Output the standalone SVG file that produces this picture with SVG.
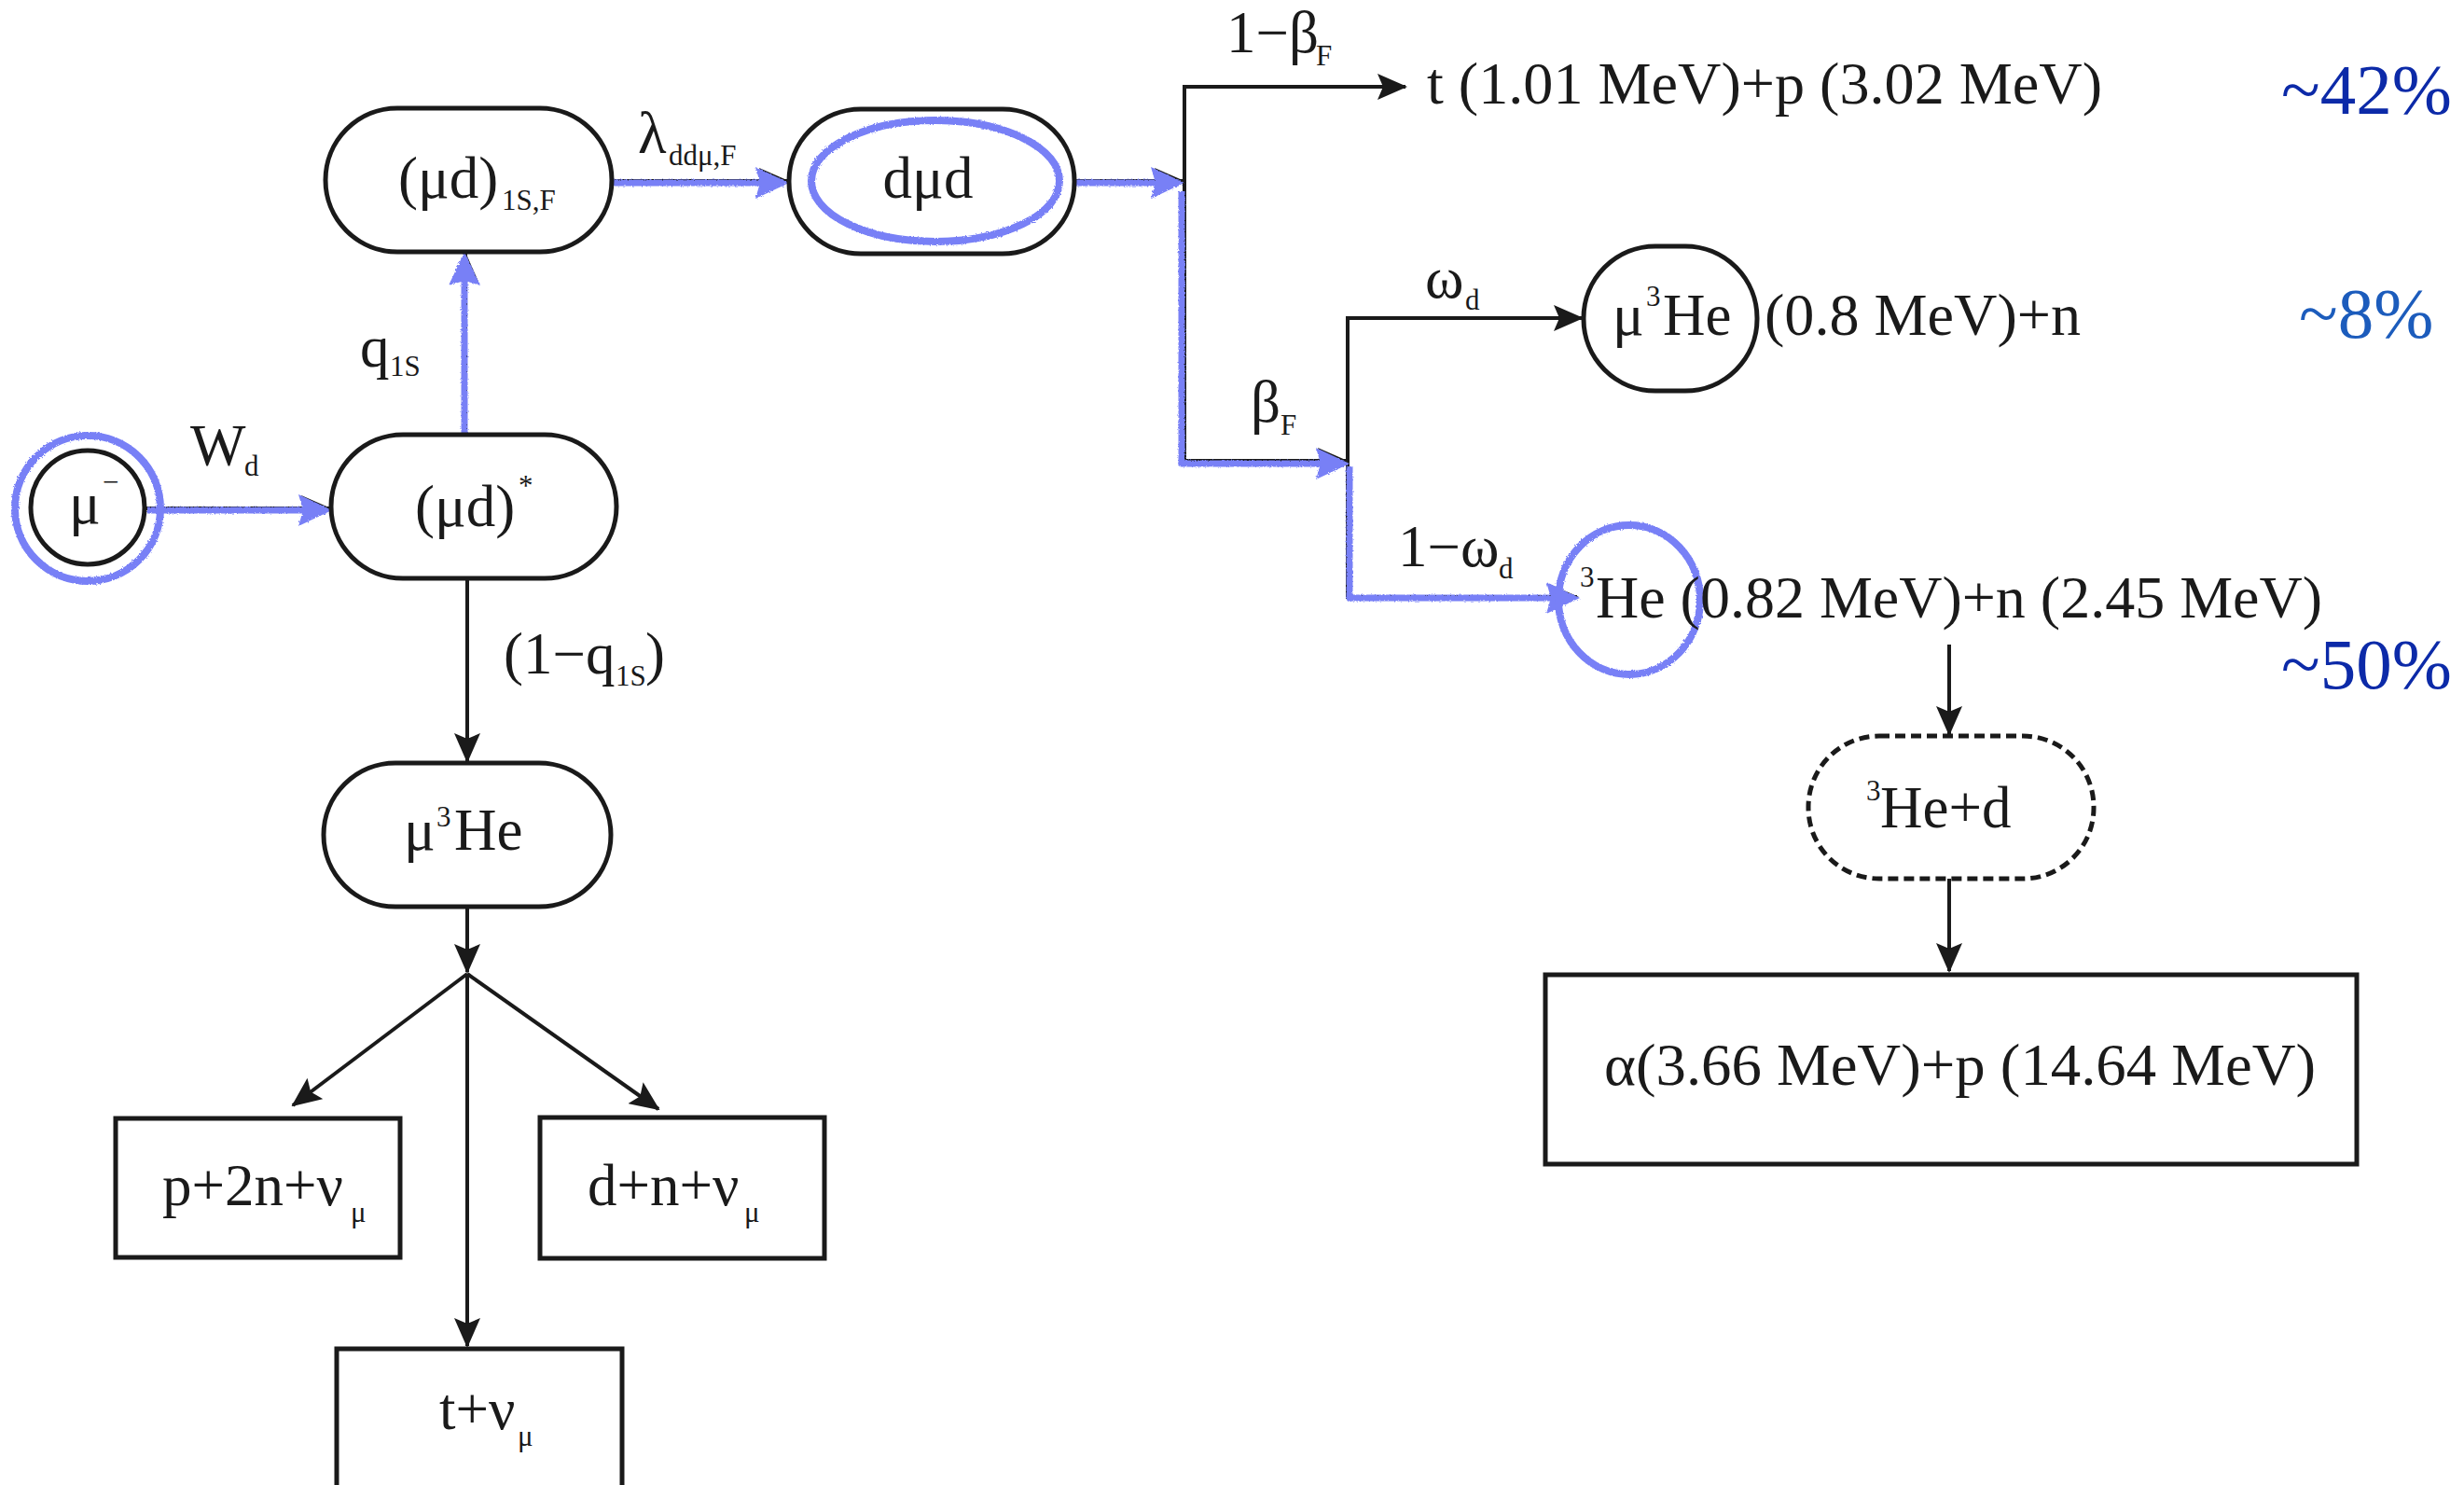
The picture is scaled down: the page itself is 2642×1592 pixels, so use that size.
<svg xmlns="http://www.w3.org/2000/svg" width="2642" height="1592" viewBox="0 0 2642 1592">
  <style>
    text { font-family: "Liberation Serif", "Times New Roman", serif; fill: #1a1a1a; }
    .t { font-size: 63px; }
    .s { font-size: 31px; }
    .pc { font-size: 77px; }
    .node { fill: #ffffff; stroke: #1a1a1a; stroke-width: 5; }
    .dash { fill: #ffffff; stroke: #1a1a1a; stroke-width: 5; stroke-dasharray: 11 6; }
    .edge { fill: none; stroke: #1a1a1a; stroke-width: 4; }
    .hl { fill: none; stroke: #7880f6; stroke-width: 7; stroke-linejoin: round; }
    .ring { fill: none; stroke: #7880f6; stroke-width: 8; }
  </style>
  <defs>
    <marker id="ah" markerUnits="userSpaceOnUse" viewBox="0 0 32 28" refX="30" refY="14" markerWidth="32" markerHeight="28" orient="auto">
      <path d="M0,0 L32,14 L0,28 L6,14 Z" fill="#1a1a1a"/>
    </marker>
    <marker id="ahb" markerUnits="userSpaceOnUse" viewBox="0 0 36 36" refX="30" refY="18" markerWidth="36" markerHeight="36" orient="auto">
      <path d="M0,1 L36,18 L0,35 L5,18 Z" fill="#7880f6"/>
    </marker>
    <!-- crayon-like roughness for the hand-drawn highlight strokes -->
    <filter id="rough" x="-10%" y="-10%" width="120%" height="120%">
      <feTurbulence type="fractalNoise" baseFrequency="0.6" numOctaves="2" seed="3" result="n"/>
      <feDisplacementMap in="SourceGraphic" in2="n" scale="3"/>
    </filter>
  </defs>

  <rect width="2642" height="1592" fill="#ffffff"/>

  <!-- connectors -->
  <g id="connectors">
    <path class="edge" d="M155,545 H353" marker-end="url(#ah)"/>
    <path class="edge" d="M499,466 V272" marker-end="url(#ah)"/>
    <path class="edge" d="M656,194 H844" marker-end="url(#ah)"/>
    <path class="edge" d="M1152,194 H1268" marker-end="url(#ah)"/>
    <path class="edge" d="M1270,494 V93 H1507" marker-end="url(#ah)"/>
    <path class="edge" d="M1270,494 H1443" marker-end="url(#ah)"/>
    <path class="edge" d="M1445,638 V341 H1696" marker-end="url(#ah)"/>
    <path class="edge" d="M1445,636 V640 H1691" marker-end="url(#ah)"/>
    <path class="edge" d="M2090,691 V787" marker-end="url(#ah)"/>
    <path class="edge" d="M2090,942 V1041" marker-end="url(#ah)"/>
    <path class="edge" d="M501,620 V816" marker-end="url(#ah)"/>
    <path class="edge" d="M501,972 V1042" marker-end="url(#ah)"/>
    <path class="edge" d="M501,1044 L314,1185" marker-end="url(#ah)"/>
    <path class="edge" d="M501,1044 L706,1189" marker-end="url(#ah)"/>
    <path class="edge" d="M501,1044 V1443" marker-end="url(#ah)"/>
  </g>

  <!-- highlighted reaction path -->
  <g id="highlight" filter="url(#rough)">
    <path class="hl" d="M158,547 H350" marker-end="url(#ahb)"/>
    <path class="hl" d="M498,466 V276" marker-end="url(#ahb)"/>
    <path class="hl" d="M651,196 H840" marker-end="url(#ahb)"/>
    <path class="hl" d="M1154,196 H1264" marker-end="url(#ahb)"/>
    <path class="hl" d="M1267,205 V497 H1441" marker-end="url(#ahb)"/>
    <path class="hl" d="M1447,500 V641 H1688" marker-end="url(#ahb)"/>
  </g>

  <!-- branch labels -->
  <g id="labels">
    <text class="t" x="204" y="499">W</text><text class="s" x="262" y="510">d</text>
    <text class="t" x="386" y="393">q</text><text class="s" x="418" y="403">1S</text>
    <text class="t" x="684" y="164">λ</text><text class="s" x="717" y="177">ddμ,F</text>
    <text class="t" x="1315" y="56">1−β</text><text class="s" x="1411" y="70">F</text>
    <text class="t" x="1341" y="452">β</text><text class="s" x="1373" y="466">F</text>
    <text class="t" x="1528" y="319">ω</text><text class="s" x="1571" y="332">d</text>
    <text class="t" x="1499" y="607">1−ω</text><text class="s" x="1607" y="620">d</text>
    <text class="t" x="540" y="722">(1−q</text><text class="s" x="660" y="735">1S</text><text class="t" x="692" y="722">)</text>
  </g>

  <g id="n-mu">
    <circle class="node" cx="94" cy="544" r="61"/>
    <circle class="ring" cx="94" cy="545" r="78" filter="url(#rough)"/>
    <text class="t" x="74" y="561">μ</text><text class="s" x="110" y="527">−</text>
  </g>

  <g id="n-mud-star">
    <rect class="node" x="355" y="466" width="306" height="154" rx="77"/>
    <text class="t" x="445" y="564">(μd)</text><text class="s" x="556" y="531">*</text>
  </g>

  <g id="n-mud-1s">
    <rect class="node" x="349" y="116" width="307" height="154" rx="77"/>
    <text class="t" x="427" y="212">(μd)</text><text class="s" x="538" y="225">1S,F</text>
  </g>

  <g id="n-dmud">
    <rect class="node" x="846" y="117" width="306" height="155" rx="77"/>
    <ellipse class="ring" cx="1003" cy="194" rx="133" ry="65" filter="url(#rough)"/>
    <text class="t" x="995" y="212" text-anchor="middle">dμd</text>
  </g>

  <g id="n-tp">
    <text class="t" x="1530" y="111" textLength="724" lengthAdjust="spacingAndGlyphs">t (1.01 MeV)+p (3.02 MeV)</text>
  </g>

  <g id="n-mu3he-r">
    <rect class="node" x="1698" y="264" width="186" height="155" rx="77"/>
    <text class="t" x="1729" y="359">μ</text><text class="s" x="1765" y="328">3</text><text class="t" x="1783" y="359">He</text>
    <text class="t" x="1892" y="359" textLength="339" lengthAdjust="spacingAndGlyphs">(0.8 MeV)+n</text>
  </g>

  <g id="n-he3n">
    <ellipse class="ring" cx="1747" cy="643" rx="76" ry="80" filter="url(#rough)"/>
    <text class="s" x="1694" y="629">3</text>
    <text class="t" x="1711" y="662" textLength="779" lengthAdjust="spacingAndGlyphs">He (0.82 MeV)+n (2.45 MeV)</text>
  </g>

  <g id="n-he3d">
    <rect class="dash" x="1939" y="789" width="306" height="153" rx="76"/>
    <text class="s" x="2001" y="858">3</text><text class="t" x="2016" y="887">He+d</text>
  </g>

  <g id="n-alpha">
    <rect class="node" x="1657" y="1045" width="870" height="203"/>
    <text class="t" x="1720" y="1163" textLength="763" lengthAdjust="spacingAndGlyphs">α(3.66 MeV)+p (14.64 MeV)</text>
  </g>

  <g id="n-mu3he-l">
    <rect class="node" x="347" y="818" width="308" height="154" rx="77"/>
    <text class="t" x="433" y="911">μ</text><text class="s" x="468" y="886">3</text><text class="t" x="487" y="911">He</text>
  </g>

  <g id="n-p2n">
    <rect class="node" x="124" y="1199" width="305" height="149"/>
    <text class="t" x="174" y="1292">p+2n+ν</text><text class="s" x="376" y="1310">μ</text>
  </g>

  <g id="n-dn">
    <rect class="node" x="579" y="1198" width="305" height="151"/>
    <text class="t" x="630" y="1292">d+n+ν</text><text class="s" x="798" y="1310">μ</text>
  </g>

  <g id="n-t">
    <rect class="node" x="361" y="1446" width="306" height="160"/>
    <text class="t" x="471" y="1532">t+ν</text><text class="s" x="555" y="1550">μ</text>
  </g>

  <g id="yields">
    <text class="pc" x="2446" y="122" style="fill:#0c2aa8">~42%</text>
    <text class="pc" x="2465" y="362" style="fill:#1c5cbc">~8%</text>
    <text class="pc" x="2446" y="738" style="fill:#0c2aa8">~50%</text>
  </g>
</svg>
